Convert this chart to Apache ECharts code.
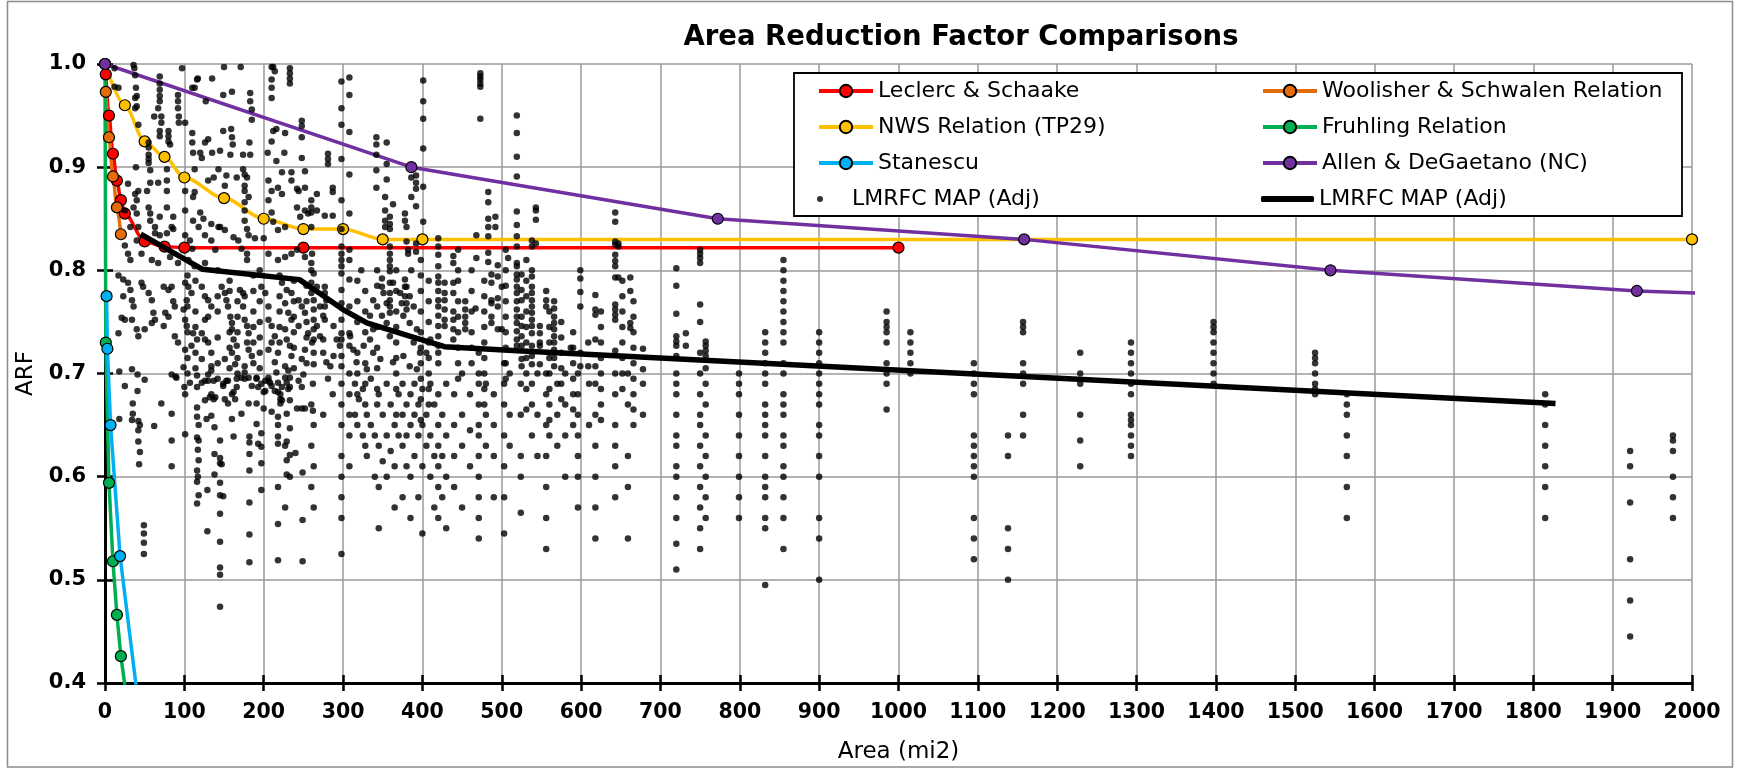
<!DOCTYPE html>
<html>
<head>
<meta charset="utf-8">
<script src="https://cdn.jsdelivr.net/npm/echarts@6/dist/echarts.min.js"></script>
<style>
  html, body { margin: 0; padding: 0; background: #ffffff; }
  #chart { width: 1737px; height: 769px; }
</style>
</head>
<body>
<div id="chart"></div>
<script>
// ---- Published area-reduction relations: [area (mi2), ARF] ----
const leclercSchaake = [[1, 0.99], [5, 0.95], [10, 0.913], [15, 0.887], [20, 0.868], [25, 0.855],
  [50, 0.828], [75, 0.823], [100, 0.822], [250, 0.822], [1000, 0.822]];
const woolisherSchwalen = [[1, 0.973], [5, 0.929], [10, 0.891], [15, 0.861], [20, 0.835]];
const nwsTp29 = [[0, 1.0], [25, 0.96], [50, 0.925], [75, 0.91], [100, 0.89], [150, 0.87], [200, 0.85],
  [250, 0.84], [300, 0.84], [350, 0.83], [400, 0.83], [2000, 0.83]];
const fruhling = [[0, 1.0], [1, 0.73], [5, 0.594], [10, 0.518], [15, 0.466], [20, 0.426], [30, 0.37]];
const stanescu = [[2, 0.775], [3, 0.724], [7, 0.65], [19, 0.523], [50, 0.33]];
const allenDeGaetano = [[0, 1.0], [386.1, 0.9], [772.2, 0.85], [1158.3, 0.83], [1544.4, 0.80],
  [1930.5, 0.78], [2316.6, 0.77]];

// ---- LMRFC MAP (Adj) fitted curve ----
const lmrfcTrend = [[45, 0.835], [123, 0.801], [245, 0.791], [270, 0.778], [300, 0.762], [330, 0.749],
  [385, 0.736], [428, 0.726], [520, 0.722], [600, 0.719], [1828, 0.671]];

// ---- LMRFC MAP (Adj) observations: each row is [basin area, ARF of each storm...] ----
const basinStorms = [
  [12, 0.996, 0.978], [17, 0.977, 0.795, 0.739], [18, 0.702, 0.656], [21, 0.754], [23, 0.791, 0.775],
  [25, 0.858, 0.824, 0.752, 0.688], [29, 0.884, 0.816, 0.788], [32, 0.842, 0.810, 0.781],
  [34, 0.771, 0.752, 0.704, 0.655], [35, 0.671, 0.661], [36, 0.999, 0.861, 0.765], [37, 0.996],
  [38, 0.989, 0.967, 0.957, 0.874], [39, 0.900, 0.977], [40, 0.969, 0.959, 0.868, 0.855, 0.829, 0.743],
  [41, 0.699, 0.683], [42, 0.941, 0.877, 0.842, 0.736, 0.654, 0.645, 0.634], [43, 0.612], [44, 0.650, 0.624],
  [46, 0.816, 0.788], [48, 0.784], [49, 0.553, 0.545, 0.536, 0.525], [50, 0.743, 0.694], [53, 0.877],
  [55, 0.924, 0.919, 0.912, 0.908, 0.904, 0.861, 0.778], [57, 0.897, 0.885, 0.855, 0.848],
  [59, 0.810, 0.771, 0.749], [61, 0.759], [62, 0.949, 0.649], [63, 0.842, 0.836, 0.752],
  [67, 0.957, 0.885, 0.807], [69, 0.988, 0.981, 0.975, 0.969, 0.964, 0.935, 0.930, 0.852, 0.834],
  [71, 0.949, 0.943, 0.671], [74, 0.784, 0.746], [76, 0.759], [78, 0.898, 0.887, 0.877, 0.861, 0.836],
  [80, 0.935, 0.930, 0.925, 0.781, 0.755], [82, 0.922, 0.813], [84, 0.842, 0.784, 0.699, 0.661, 0.635, 0.610],
  [86, 0.852, 0.840, 0.770], [88, 0.765, 0.736], [89, 0.697], [90, 0.696],
  [92, 0.970, 0.964, 0.957, 0.807, 0.730], [93, 0.949, 0.943], [97, 0.996], [99, 0.762, 0.706],
  [100, 0.687], [101, 0.943, 0.877, 0.858, 0.834, 0.788, 0.752, 0.723, 0.680, 0.641], [103, 0.771, 0.746],
  [104, 0.795, 0.765, 0.74, 0.715, 0.70],
  [105, 0.810, 0.784], [107, 0.829, 0.691], [109, 0.778, 0.727], [110, 0.977, 0.933, 0.924, 0.821],
  [111, 0.914, 0.871, 0.848, 0.739], [113, 0.977, 0.898, 0.876, 0.804], [114, 0.79, 0.76, 0.745, 0.72, 0.705],
  [116, 0.985, 0.733, 0.698, 0.687, 0.667, 0.658, 0.638, 0.606, 0.595, 0.574], [117, 0.986, 0.626, 0.600],
  [118, 0.842, 0.650, 0.635, 0.616, 0.582], [120, 0.914, 0.856], [122, 0.909, 0.784, 0.739, 0.714, 0.691],
  [124, 0.850], [126, 0.924, 0.834, 0.807, 0.775, 0.752, 0.733, 0.693, 0.674], [127, 0.964], [128, 0.656],
  [129, 0.587, 0.547], [130, 0.927, 0.887, 0.771, 0.755, 0.730, 0.699, 0.693], [132, 0.677],
  [134, 0.845, 0.829, 0.765, 0.720, 0.707, 0.703, 0.680, 0.659], [135, 0.986, 0.914], [137, 0.890, 0.693, 0.675],
  [138, 0.648, 0.622, 0.602], [139, 0.820, 0.677], [142, 0.80, 0.775, 0.76, 0.735, 0.71, 0.695],
  [143, 0.898, 0.842],
  [145, 0.916, 0.842, 0.635, 0.618, 0.613, 0.594, 0.582, 0.564, 0.537, 0.512, 0.505, 0.474],
  [147, 0.784, 0.612], [149, 0.970, 0.935, 0.690, 0.688, 0.581], [150, 0.997],
  [151, 0.882, 0.839, 0.778, 0.714, 0.675], [153, 0.892, 0.771, 0.693], [155, 0.765, 0.693, 0.671],
  [157, 0.79, 0.78, 0.74, 0.725, 0.705],
  [158, 0.912, 0.755], [159, 0.937], [160, 0.973, 0.929, 0.749, 0.743, 0.720, 0.680, 0.656], [161, 0.922],
  [162, 0.832, 0.733, 0.682, 0.639], [164, 0.709, 0.675], [166, 0.890, 0.727, 0.695, 0.687],
  [167, 0.77, 0.755, 0.74, 0.715, 0.70], [168, 0.829],
  [170, 0.781], [171, 0.997], [172, 0.821, 0.696, 0.661], [174, 0.912, 0.898, 0.778, 0.765],
  [176, 0.893, 0.882, 0.877, 0.866, 0.858, 0.848, 0.775, 0.752, 0.707, 0.701, 0.695],
  [179, 0.890, 0.840, 0.816, 0.810, 0.746, 0.730], [181, 0.871, 0.834, 0.739, 0.723, 0.696, 0.671],
  [182, 0.924, 0.639, 0.633, 0.622, 0.606, 0.575, 0.544, 0.517], [183, 0.972, 0.964, 0.912],
  [185, 0.956, 0.946, 0.717, 0.688], [187, 0.795, 0.78, 0.76, 0.745, 0.73, 0.71], [189, 0.831],
  [191, 0.696, 0.695, 0.671, 0.651], [193, 0.687, 0.632], [195, 0.80, 0.77, 0.75, 0.735, 0.72, 0.705],
  [197, 0.784, 0.690, 0.642, 0.629, 0.613, 0.587], [200, 0.831, 0.682, 0.666], [202, 0.778, 0.693, 0.683],
  [205, 0.914], [206, 0.887, 0.868, 0.816, 0.765, 0.752, 0.723, 0.696, 0.693], [208, 0.691],
  [210, 0.997, 0.985, 0.977, 0.967, 0.925, 0.877, 0.856, 0.746, 0.730, 0.688, 0.663], [212, 0.997, 0.935, 0.847],
  [214, 0.993, 0.736, 0.711, 0.683], [216, 0.937, 0.906, 0.701],
  [218, 0.880, 0.839, 0.810, 0.720, 0.691, 0.682, 0.658, 0.650, 0.639, 0.632, 0.590, 0.554, 0.519],
  [220, 0.795, 0.775, 0.76, 0.745, 0.73],
  [221, 0.680, 0.675, 0.671], [223, 0.895, 0.874, 0.788, 0.687, 0.674], [226, 0.914],
  [227, 0.933, 0.842, 0.813, 0.768, 0.743, 0.707, 0.696, 0.630, 0.570],
  [229, 0.781, 0.733, 0.691, 0.661, 0.634, 0.616, 0.602], [231, 0.759, 0.703, 0.685],
  [233, 0.996, 0.991, 0.986, 0.981, 0.727, 0.696, 0.687, 0.674, 0.647, 0.621, 0.600],
  [235, 0.895, 0.887, 0.816, 0.778, 0.752, 0.717], [238, 0.79, 0.77, 0.755, 0.74, 0.725, 0.705],
  [240, 0.623], [242, 0.879, 0.861, 0.820, 0.666],
  [244, 0.877, 0.771, 0.746, 0.693], [246, 0.852], [248, 0.945, 0.940, 0.929, 0.909, 0.765, 0.714, 0.687, 0.666],
  [249, 0.604, 0.558, 0.518], [250, 0.699], [252, 0.896, 0.880, 0.858, 0.813, 0.759, 0.723, 0.666],
  [254, 0.785, 0.77, 0.75, 0.735, 0.71],
  [256, 0.855, 0.739], [261, 0.816, 0.730], [262, 0.690, 0.664],
  [260, 0.868, 0.861, 0.856, 0.842, 0.807, 0.800, 0.788, 0.778, 0.67, 0.63, 0.59],
  [263, 0.797, 0.771, 0.762, 0.752, 0.743, 0.733, 0.720, 0.709, 0.65, 0.61, 0.57],
  [267, 0.874, 0.858, 0.784, 0.746], [271, 0.765, 0.736], [275, 0.756, 0.733, 0.720, 0.66],
  [277, 0.853, 0.784, 0.778, 0.765, 0.752], [279, 0.771, 0.711], [281, 0.913, 0.908, 0.903, 0.695],
  [284, 0.707], [287, 0.880, 0.876, 0.853, 0.68], [288, 0.746, 0.717], [292, 0.733], [296, 0.727],
  [298, 0.983, 0.957, 0.941, 0.908, 0.868, 0.840, 0.823, 0.816, 0.810, 0.804, 0.797, 0.781, 0.768, 0.752,
    0.739, 0.733, 0.717, 0.707, 0.69, 0.67, 0.65, 0.62, 0.60, 0.58, 0.56, 0.525],
  [308, 0.987, 0.970, 0.934, 0.893, 0.855, 0.820, 0.810, 0.791, 0.765, 0.739, 0.727, 0.70, 0.68, 0.66, 0.64, 0.61],
  [309, 0.736], [313, 0.723], [315, 0.69, 0.66], [317, 0.711], [318, 0.79, 0.77, 0.75, 0.72, 0.70, 0.68, 0.65],
  [320, 0.675], [323, 0.800], [325, 0.685, 0.64], [326, 0.727], [328, 0.78, 0.76, 0.74, 0.71, 0.69, 0.67, 0.63],
  [330, 0.704, 0.66, 0.62], [334, 0.756, 0.733], [335, 0.695, 0.65],
  [338, 0.771, 0.743, 0.720], [340, 0.64, 0.60], [342, 0.929, 0.922, 0.912, 0.897, 0.880],
  [343, 0.80, 0.785, 0.765, 0.745, 0.725, 0.705, 0.685, 0.67],
  [345, 0.68, 0.63, 0.59, 0.55], [347, 0.714], [349, 0.792, 0.784, 0.756], [350, 0.66, 0.615], [351, 0.778],
  [353, 0.871, 0.858, 0.848, 0.842], [355, 0.924, 0.903, 0.888, 0.768, 0.749, 0.69, 0.64, 0.60],
  [359, 0.852, 0.845, 0.840, 0.823, 0.816, 0.810, 0.804, 0.799, 0.788, 0.778, 0.771, 0.765, 0.759, 0.736],
  [360, 0.67, 0.625], [363, 0.864, 0.788, 0.711], [365, 0.65, 0.61, 0.57],
  [367, 0.80, 0.78, 0.76, 0.745, 0.73, 0.715, 0.70, 0.685, 0.66], [370, 0.68, 0.64], [372, 0.778],
  [374, 0.768], [375, 0.69, 0.66, 0.63, 0.58], [376, 0.756, 0.717], [378, 0.855, 0.848, 0.791, 0.784, 0.775],
  [380, 0.842, 0.828, 0.784, 0.768, 0.762, 0.67, 0.64, 0.61], [382, 0.820, 0.816], [384, 0.775, 0.749, 0.707],
  [385, 0.68, 0.65, 0.60, 0.56], [386, 0.890, 0.871, 0.800], [389, 0.765, 0.730], [390, 0.69, 0.66, 0.62],
  [392, 0.892, 0.885, 0.879, 0.862, 0.826, 0.818], [393, 0.743, 0.704], [395, 0.67, 0.64, 0.58], [397, 0.720],
  [398, 0.81, 0.795, 0.78, 0.76, 0.74, 0.725, 0.71, 0.695, 0.675, 0.655],
  [400, 0.685, 0.65, 0.61, 0.545], [401, 0.984, 0.964, 0.947, 0.918, 0.881, 0.847], [405, 0.720, 0.66, 0.63],
  [408, 0.79, 0.77, 0.75, 0.73, 0.715, 0.70, 0.685, 0.67],
  [410, 0.733, 0.69, 0.64, 0.60], [415, 0.67, 0.62, 0.57],
  [420, 0.831, 0.823, 0.815, 0.804, 0.794, 0.788, 0.780, 0.771, 0.765, 0.756, 0.746, 0.736, 0.727, 0.720,
    0.710, 0.68, 0.65, 0.63, 0.61, 0.59, 0.56],
  [425, 0.66, 0.62, 0.58], [428, 0.788, 0.778, 0.771, 0.762, 0.752, 0.746],
  [430, 0.69, 0.64, 0.60, 0.55], [439, 0.814, 0.807, 0.788, 0.778, 0.760, 0.752, 0.743, 0.733],
  [440, 0.68, 0.65, 0.62, 0.59], [445, 0.82, 0.80, 0.79, 0.77, 0.755, 0.74, 0.725, 0.71, 0.695],
  [450, 0.70, 0.66, 0.63, 0.57], [454, 0.770, 0.762, 0.755, 0.749, 0.743],
  [460, 0.68, 0.645, 0.61], [462, 0.80, 0.78, 0.76, 0.74, 0.725, 0.71], [467, 0.763], [468, 0.834, 0.812],
  [471, 0.72, 0.70, 0.69, 0.67, 0.65, 0.64, 0.62, 0.60, 0.58, 0.56, 0.54],
  [473, 0.991, 0.988, 0.985, 0.981, 0.978, 0.947],
  [478, 0.79, 0.775, 0.76, 0.745, 0.73, 0.715, 0.70, 0.685, 0.67], [480, 0.69, 0.66, 0.63],
  [483, 0.876, 0.866, 0.850, 0.842, 0.833, 0.817, 0.808], [487, 0.796, 0.788, 0.771, 0.768, 0.755, 0.749],
  [490, 0.68, 0.65, 0.62, 0.58], [492, 0.852, 0.842], [495, 0.805, 0.794, 0.773, 0.765, 0.743],
  [500, 0.784, 0.743], [503, 0.71, 0.69, 0.67, 0.64, 0.61, 0.58, 0.545],
  [505, 0.82, 0.80, 0.785, 0.77, 0.755, 0.74, 0.725, 0.71, 0.695], [508, 0.812], [510, 0.70, 0.66, 0.63],
  [519, 0.950, 0.933, 0.910, 0.891, 0.857, 0.844, 0.833, 0.823, 0.807, 0.804, 0.796, 0.791, 0.784, 0.778,
    0.770, 0.762, 0.755, 0.749, 0.741, 0.733, 0.727],
  [524, 0.69, 0.66, 0.62, 0.60, 0.565], [525, 0.796, 0.781, 0.771, 0.755, 0.746, 0.736, 0.727, 0.714, 0.707],
  [531, 0.81, 0.79, 0.775, 0.76, 0.745, 0.73, 0.715, 0.70, 0.685, 0.665],
  [538, 0.829, 0.823, 0.800, 0.794, 0.784, 0.778, 0.771, 0.765, 0.759, 0.752, 0.746, 0.739, 0.727, 0.717,
    0.709, 0.69, 0.67, 0.64],
  [543, 0.861, 0.858, 0.849, 0.826], [545, 0.70, 0.66, 0.62], [548, 0.746, 0.739, 0.730, 0.727, 0.709],
  [556, 0.780, 0.771, 0.765, 0.70, 0.68, 0.65, 0.62, 0.59, 0.56, 0.53],
  [560, 0.76, 0.745, 0.73, 0.715, 0.70, 0.685, 0.67, 0.655, 0.64],
  [566, 0.770, 0.763, 0.755, 0.749, 0.743, 0.736, 0.730, 0.723, 0.715, 0.707], [570, 0.69, 0.66, 0.63],
  [575, 0.75, 0.735, 0.72, 0.705, 0.69, 0.675],
  [580, 0.70, 0.67, 0.64, 0.60], [587, 0.725], [590, 0.74, 0.725, 0.71, 0.695, 0.68, 0.665, 0.65],
  [596, 0.70, 0.68, 0.66, 0.64, 0.62, 0.60, 0.57],
  [599, 0.800, 0.792, 0.779, 0.765, 0.720, 0.707], [609, 0.730, 0.707], [610, 0.69, 0.65],
  [618, 0.776, 0.762, 0.757, 0.733, 0.707, 0.69, 0.66, 0.63, 0.60, 0.57, 0.54],
  [625, 0.76, 0.745, 0.73, 0.715, 0.70, 0.685, 0.67, 0.655],
  [643, 0.856, 0.847, 0.828, 0.825, 0.815, 0.809, 0.804, 0.793, 0.767, 0.762, 0.757, 0.752, 0.722,
    0.70, 0.68, 0.65, 0.63, 0.61, 0.58],
  [647, 0.826, 0.823, 0.793], [652, 0.79, 0.775, 0.76, 0.745, 0.73, 0.715, 0.70, 0.685],
  [659, 0.70, 0.67, 0.62, 0.59, 0.54], [662, 0.793, 0.780, 0.749, 0.744],
  [666, 0.77, 0.755, 0.74, 0.725, 0.71, 0.695, 0.68, 0.665, 0.65],
  [678, 0.724, 0.704, 0.69, 0.66],
  [720, 0.802, 0.785, 0.758, 0.736, 0.731, 0.727, 0.717, 0.70, 0.69, 0.68, 0.66, 0.64, 0.63, 0.61, 0.60,
    0.58, 0.56, 0.535, 0.51],
  [732, 0.739, 0.727],
  [750, 0.820, 0.816, 0.812, 0.807, 0.767, 0.75, 0.72, 0.70, 0.68, 0.66, 0.65, 0.63, 0.61, 0.59, 0.57, 0.55, 0.53],
  [757, 0.731, 0.727, 0.722, 0.717, 0.705, 0.69, 0.67, 0.64, 0.62, 0.60, 0.58, 0.56],
  [799, 0.70, 0.69, 0.68, 0.66, 0.64, 0.62, 0.60, 0.58, 0.56],
  [832, 0.74, 0.73, 0.72, 0.71, 0.70, 0.69, 0.67, 0.66, 0.65, 0.64, 0.62, 0.60, 0.59, 0.58, 0.56, 0.55, 0.495],
  [855, 0.81, 0.80, 0.79, 0.78, 0.77, 0.76, 0.75, 0.74, 0.73, 0.71, 0.70, 0.68, 0.67, 0.66, 0.64, 0.63, 0.61,
    0.60, 0.58, 0.56, 0.53],
  [900, 0.74, 0.73, 0.72, 0.71, 0.70, 0.69, 0.68, 0.67, 0.65, 0.64, 0.62, 0.60, 0.56, 0.54, 0.50],
  [985, 0.76, 0.75, 0.745, 0.74, 0.73, 0.71, 0.70, 0.69, 0.665], [1015, 0.74, 0.73, 0.72, 0.71, 0.70],
  [1095, 0.71, 0.70, 0.69, 0.68, 0.64, 0.63, 0.62, 0.61, 0.60, 0.56, 0.54, 0.52],
  [1138, 0.64, 0.62, 0.55, 0.53, 0.50], [1157, 0.75, 0.745, 0.74, 0.71, 0.70, 0.69, 0.66, 0.64],
  [1229, 0.72, 0.70, 0.69, 0.66, 0.635, 0.61],
  [1293, 0.73, 0.72, 0.71, 0.70, 0.69, 0.68, 0.66, 0.655, 0.65, 0.64, 0.63, 0.62],
  [1397, 0.75, 0.745, 0.74, 0.73, 0.72, 0.71, 0.70, 0.69], [1525, 0.72, 0.715, 0.71, 0.70, 0.69, 0.685, 0.68],
  [1565, 0.68, 0.67, 0.66, 0.64, 0.62, 0.59, 0.56], [1815, 0.68, 0.67, 0.65, 0.63, 0.61, 0.59, 0.56],
  [1922, 0.625, 0.61, 0.575, 0.52, 0.48, 0.445], [1976, 0.64, 0.635, 0.625, 0.60, 0.58, 0.56]
];

// ---- Axis ranges ----
const areaMin = 0, areaMax = 2000, areaStep = 100;
const arfMin = 0.4, arfMax = 1.0, arfStep = 0.1;

const mapPoints = [];
basinStorms.forEach(([area, ...arfs]) => arfs.forEach(v => mapPoints.push([area, v])));

const FONT = "'DejaVu Sans', sans-serif";
const tickStyle = { color: '#000', width: 2.5 };
const legendText = { fontFamily: FONT, fontSize: 22, lineHeight: 26, color: '#000' };

function relation(name, data, color, smooth) {
  return {
    name, type: 'line', data, smooth: smooth || false, smoothMonotone: 'x',
    symbol: 'circle', symbolSize: 11, clip: true, z: 2,
    lineStyle: { color, width: 3.5 },
    itemStyle: { color, borderColor: '#000', borderWidth: 1.2 },
    emphasis: { disabled: true }
  };
}

const chart = echarts.init(document.getElementById('chart'));
chart.setOption({
  animation: false,
  backgroundColor: '#ffffff',
  title: {
    text: 'Area Reduction Factor Comparisons',
    left: 956, top: 19, textAlign: 'center',
    textStyle: { fontFamily: FONT, fontSize: 27.5, fontWeight: 'bold', color: '#000' }
  },
  grid: { left: 105, right: 45, top: 64, bottom: 81 },
  xAxis: [{
    type: 'value', position: 'bottom', min: areaMin, max: areaMax, interval: areaStep,
    name: 'Area (mi2)', nameLocation: 'middle', nameGap: 58,
    nameTextStyle: { fontFamily: FONT, fontSize: 23, color: '#000' },
    axisLine: { show: true, onZero: false, lineStyle: { color: '#000', width: 3 } },
    axisTick: { show: true, length: 8, lineStyle: tickStyle },
    axisLabel: { fontFamily: FONT, fontSize: 20.5, fontWeight: 'bold', color: '#000', margin: 19,
      formatter: v => String(v) },
    splitLine: { show: true, lineStyle: { color: '#9a9a9a', width: 1.5 } }
  }, {
    type: 'value', position: 'bottom', min: areaMin, max: areaMax, interval: areaStep,
    axisLine: { show: false }, axisLabel: { show: false }, splitLine: { show: false },
    axisTick: { show: true, inside: true, length: 8, lineStyle: tickStyle }
  }],
  yAxis: [{
    type: 'value', position: 'left', min: arfMin, max: arfMax, interval: arfStep,
    name: 'ARF', nameLocation: 'middle', nameGap: 62,
    nameTextStyle: { fontFamily: FONT, fontSize: 23, color: '#000' },
    axisLine: { show: true, onZero: false, lineStyle: { color: '#000', width: 3 } },
    axisTick: { show: true, length: 8, lineStyle: tickStyle },
    axisLabel: { fontFamily: FONT, fontSize: 21, fontWeight: 'bold', color: '#000', margin: 19,
      formatter: v => v.toFixed(1) },
    splitLine: { show: true, lineStyle: { color: '#9a9a9a', width: 1.5 } }
  }, {
    type: 'value', position: 'left', min: arfMin, max: arfMax, interval: arfStep,
    axisLine: { show: false }, axisLabel: { show: false }, splitLine: { show: false },
    axisTick: { show: true, inside: true, length: 8, lineStyle: tickStyle }
  }],
  legend: [{
    orient: 'vertical', left: 817, top: 78, padding: 0, itemGap: 10, itemWidth: 54, itemHeight: 15.5,
    selectedMode: false, textStyle: legendText, lineStyle: { width: 4 },
    data: ['Leclerc & Schaake', 'NWS Relation (TP29)', 'Stanescu']
  }, {
    orient: 'vertical', left: 1261, top: 78, padding: 0, itemGap: 10, itemWidth: 54, itemHeight: 15.5,
    selectedMode: false, textStyle: legendText, lineStyle: { width: 4 },
    data: ['Woolisher & Schwalen Relation', 'Fruhling Relation', 'Allen & DeGaetano (NC)']
  }, {
    left: 817, top: 186, padding: 0, itemWidth: 54, itemHeight: 6, icon: 'circle',
    selectedMode: false, textStyle: legendText,
    data: ['LMRFC MAP (Adj)']
  }, {
    left: 1261, top: 186, padding: 0, itemWidth: 53, itemHeight: 6, icon: 'roundRect',
    selectedMode: false, textStyle: legendText,
    data: ['LMRFC MAP (Adj) trend'],
    formatter: () => 'LMRFC MAP (Adj)'
  }],
  graphic: {
    elements: [{
      type: 'rect', z: 3, silent: true,
      shape: { x: 794, y: 73, width: 888, height: 143 },
      style: { fill: '#ffffff', stroke: '#000', lineWidth: 1.8 }
    }, {
      type: 'rect', z: 0, silent: true,
      shape: { x: 7.5, y: 1.5, width: 1725, height: 765.5 },
      style: { fill: 'none', stroke: '#8c8c8c', lineWidth: 1.5 }
    }]
  },
  series: [
    relation('Leclerc & Schaake', leclercSchaake, '#ff0000', 0.3),
    relation('Woolisher & Schwalen Relation', woolisherSchwalen, '#e46c0a', 0.3),
    relation('NWS Relation (TP29)', nwsTp29, '#ffc000', 0.3),
    relation('Fruhling Relation', fruhling, '#00b050'),
    relation('Stanescu', stanescu, '#00b0f0'),
    relation('Allen & DeGaetano (NC)', allenDeGaetano, '#7030a0'),
    {
      name: 'LMRFC MAP (Adj)', type: 'scatter', data: mapPoints, symbolSize: 6.5, z: 2,
      itemStyle: { color: '#000' }, emphasis: { disabled: true }
    },
    {
      name: 'LMRFC MAP (Adj) trend', type: 'line', data: lmrfcTrend, symbol: 'none', z: 3,
      lineStyle: { color: '#000', width: 5.5 }, itemStyle: { color: '#000' },
      emphasis: { disabled: true }
    }
  ]
});
</script>
</body>
</html>
